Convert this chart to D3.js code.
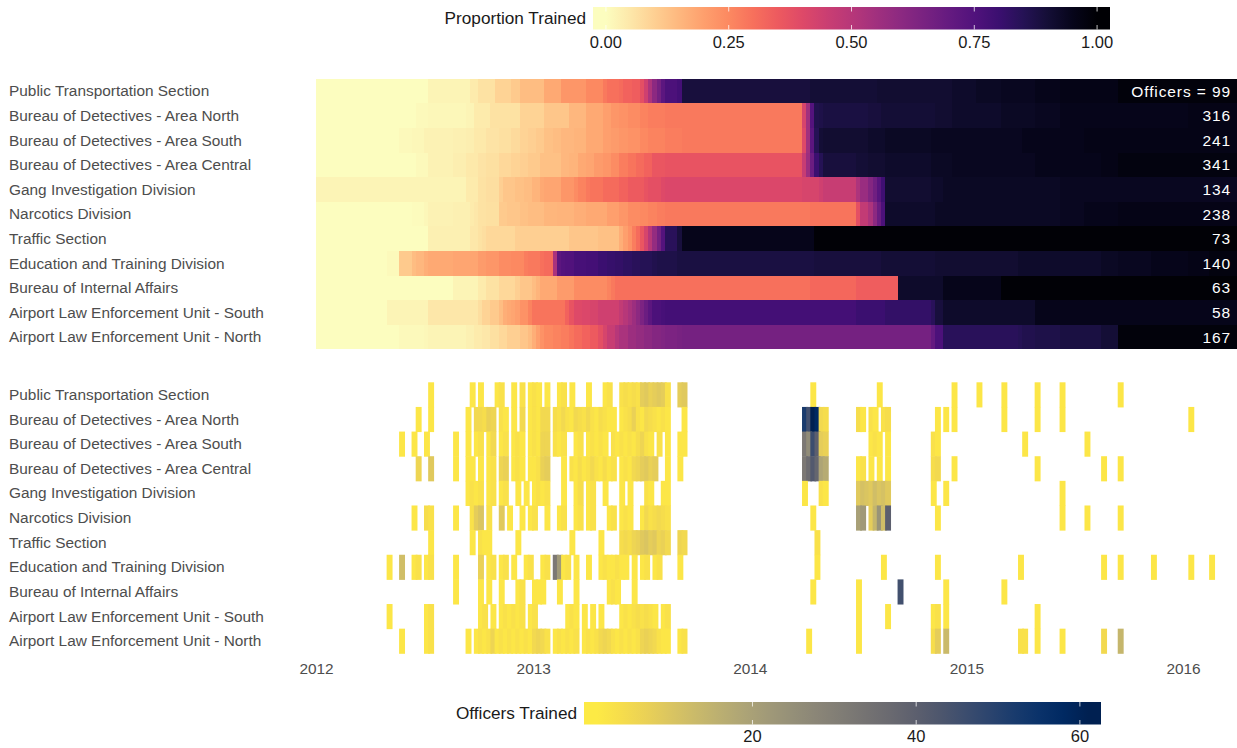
<!DOCTYPE html>
<html>
<head>
<meta charset="utf-8">
<script src="https://cdn.jsdelivr.net/npm/d3@7"></script>
<style>
  body { margin: 0; background: #fff; }
  text { font-family: "Liberation Sans", Arial, sans-serif; }
</style>
</head>
<body>
<svg id="chart" width="1237" height="748"></svg>
<script>
// Units, top to bottom
const units = [
  "Public Transportation Section",
  "Bureau of Detectives - Area North",
  "Bureau of Detectives - Area South",
  "Bureau of Detectives - Area Central",
  "Gang Investigation Division",
  "Narcotics Division",
  "Traffic Section",
  "Education and Training Division",
  "Bureau of Internal Affairs",
  "Airport Law Enforcement Unit - South",
  "Airport Law Enforcement Unit - North"
];

// Headcount of each unit
const officers = [99, 316, 241, 341, 134, 238, 73, 140, 63, 58, 167];

const yearTicks = ["2012", "2013", "2014", "2015", "2016"];
const shareTicks = [0, 0.25, 0.5, 0.75, 1];
const countTicks = [20, 40, 60];

// Weeks are counted from Sunday 2012-01-01; week 222 closes the period.
const lastWeek = 222;

// Cumulative share of each unit trained: [week, share] at each change
const sharePublicTransport = [[0,0],[27,0.02],[37,0.04],[39,0.06],[43,0.09],[47,0.11],[49,0.14],[55,0.18],[59,0.22],[65,0.25],[69,0.28],[70,0.30],[73,0.31],[74,0.33],[76,0.34],[78,0.38],[79,0.44],[80,0.52],[81,0.60],[82,0.66],[83,0.72],[84,0.76],[87,0.78],[88,0.89],[119,0.90],[135,0.91],[153,0.92],[159,0.93],[165,0.94],[173,0.95],[179,0.96],[193,0.98]];
const shareNorth = [[0,0],[24,0.01],[27,0.015],[36,0.02],[38,0.04],[42,0.06],[49,0.09],[55,0.12],[61,0.15],[65,0.18],[69,0.20],[71,0.22],[73,0.23],[75,0.24],[78,0.26],[80,0.27],[84,0.28],[117,0.42],[118,0.55],[119,0.74],[120,0.86],[121,0.87],[122,0.88],[133,0.89],[136,0.90],[149,0.91],[153,0.92],[165,0.93],[173,0.94],[179,0.95],[210,0.96]];
const shareSouth = [[0,0],[20,0.01],[23,0.015],[26,0.025],[33,0.03],[36,0.035],[38,0.045],[41,0.055],[44,0.065],[47,0.075],[49,0.09],[51,0.10],[53,0.11],[55,0.13],[57,0.14],[59,0.15],[62,0.16],[65,0.18],[69,0.20],[71,0.21],[73,0.22],[75,0.23],[78,0.25],[80,0.26],[84,0.27],[88,0.28],[117,0.40],[118,0.55],[119,0.72],[120,0.85],[121,0.90],[122,0.91],[133,0.92],[137,0.93],[148,0.94],[170,0.95],[185,0.96]];
const shareCentral = [[0,0],[24,0.01],[27,0.025],[33,0.035],[36,0.045],[39,0.055],[41,0.065],[44,0.08],[47,0.09],[49,0.10],[51,0.11],[54,0.13],[59,0.15],[61,0.16],[63,0.18],[65,0.19],[67,0.21],[69,0.22],[71,0.24],[73,0.27],[75,0.29],[77,0.31],[79,0.33],[81,0.36],[84,0.37],[117,0.46],[118,0.56],[119,0.68],[120,0.80],[121,0.85],[122,0.89],[130,0.90],[133,0.91],[137,0.92],[148,0.93],[153,0.94],[173,0.95],[189,0.96],[193,0.97]];
const shareGang = [[0,0.02],[36,0.04],[39,0.06],[41,0.07],[44,0.10],[45,0.12],[48,0.13],[50,0.14],[52,0.16],[54,0.18],[55,0.19],[59,0.22],[62,0.24],[63,0.26],[65,0.28],[66,0.29],[69,0.31],[73,0.33],[75,0.35],[79,0.37],[80,0.38],[83,0.40],[84,0.41],[117,0.42],[121,0.44],[122,0.46],[130,0.52],[131,0.57],[133,0.62],[134,0.67],[135,0.73],[136,0.79],[137,0.91],[148,0.92],[151,0.93],[179,0.94]];
const shareNarcotics = [[0,0],[23,0.005],[26,0.015],[27,0.025],[33,0.03],[37,0.04],[38,0.05],[39,0.06],[41,0.065],[44,0.11],[46,0.12],[49,0.13],[51,0.14],[55,0.155],[58,0.16],[62,0.17],[65,0.18],[70,0.20],[73,0.22],[75,0.24],[78,0.25],[80,0.26],[82,0.27],[84,0.28],[119,0.29],[130,0.38],[131,0.47],[133,0.52],[134,0.60],[135,0.68],[136,0.76],[137,0.92],[149,0.93],[179,0.94],[185,0.95],[193,0.96]];
const shareTraffic = [[0,0],[27,0.03],[37,0.05],[39,0.06],[40,0.07],[41,0.08],[48,0.10],[61,0.12],[68,0.13],[73,0.17],[74,0.20],[75,0.23],[76,0.27],[77,0.31],[78,0.36],[79,0.42],[80,0.50],[81,0.58],[82,0.66],[83,0.74],[84,0.84],[87,0.89],[88,0.95],[120,0.99]];
const shareEducation = [[0,0],[17,0.01],[20,0.11],[23,0.14],[24,0.15],[26,0.17],[27,0.18],[33,0.19],[39,0.21],[41,0.22],[44,0.24],[47,0.25],[50,0.27],[51,0.28],[54,0.30],[55,0.31],[57,0.53],[58,0.72],[59,0.74],[60,0.75],[62,0.77],[65,0.78],[68,0.80],[70,0.81],[72,0.82],[74,0.83],[76,0.84],[78,0.85],[81,0.86],[82,0.87],[87,0.88],[120,0.89],[136,0.90],[149,0.91],[169,0.92],[189,0.93],[193,0.94],[201,0.95],[210,0.96],[215,0.97]];
const shareInternalAffairs = [[0,0],[33,0.02],[39,0.04],[41,0.06],[44,0.08],[48,0.10],[49,0.12],[52,0.14],[53,0.16],[54,0.18],[58,0.21],[62,0.24],[70,0.26],[71,0.28],[72,0.30],[119,0.32],[130,0.34],[140,0.92],[151,0.95],[165,0.99]];
const shareAirportSouth = [[0,0],[17,0.02],[27,0.05],[39,0.07],[40,0.09],[42,0.11],[44,0.14],[45,0.17],[46,0.18],[47,0.19],[48,0.20],[49,0.23],[51,0.26],[52,0.29],[60,0.33],[61,0.37],[62,0.40],[64,0.41],[66,0.42],[68,0.44],[73,0.47],[74,0.50],[75,0.53],[76,0.56],[77,0.60],[78,0.64],[79,0.68],[80,0.72],[81,0.76],[83,0.77],[84,0.78],[130,0.80],[137,0.82],[148,0.84],[149,0.89],[151,0.92],[173,0.95]];
const shareAirportNorth = [[0,0],[20,0.01],[26,0.015],[27,0.02],[36,0.03],[38,0.04],[40,0.05],[42,0.065],[44,0.08],[46,0.10],[49,0.12],[51,0.14],[52,0.17],[53,0.20],[54,0.23],[55,0.25],[57,0.26],[59,0.27],[61,0.29],[62,0.31],[64,0.33],[66,0.35],[68,0.38],[69,0.42],[70,0.46],[72,0.50],[73,0.53],[75,0.56],[77,0.58],[79,0.60],[81,0.62],[83,0.63],[84,0.64],[87,0.65],[88,0.66],[148,0.70],[149,0.76],[151,0.84],[169,0.85],[170,0.86],[173,0.87],[179,0.88],[189,0.90],[193,0.98]];

// Officers trained per week: [week, count]
const weeklyPublicTransport = [[27,2],[37,2],[39,2],[43,2],[44,3],[47,2],[49,3],[51,2],[52,3],[53,2],[55,2],[58,2],[59,3],[61,2],[65,2],[69,2],[70,3],[73,3],[74,4],[75,3],[76,4],[77,3],[78,8],[79,9],[80,7],[81,8],[82,9],[83,8],[84,3],[87,8],[88,9],[119,2],[135,2],[153,2],[159,2],[165,2],[173,2],[179,2],[193,2]];
const weeklyNorth = [[24,2],[27,2],[36,2],[38,5],[39,5],[40,4],[41,7],[42,6],[44,3],[45,2],[47,2],[49,5],[51,2],[52,3],[53,2],[54,5],[55,5],[57,4],[58,3],[59,5],[60,3],[61,2],[62,5],[63,4],[64,3],[65,5],[66,3],[67,2],[68,4],[69,3],[70,2],[71,2],[73,2],[74,3],[75,4],[76,7],[77,3],[78,2],[79,5],[80,4],[81,3],[82,2],[83,3],[84,2],[88,2],[117,52],[118,45],[119,61],[120,58],[121,5],[122,4],[130,4],[131,2],[133,3],[134,2],[136,3],[137,4],[149,2],[151,2],[153,2],[165,2],[173,2],[179,2],[210,2]];
const weeklySouth = [[20,2],[23,2],[26,2],[33,2],[36,2],[38,2],[39,3],[41,2],[42,5],[44,2],[45,3],[47,2],[48,3],[49,2],[51,2],[52,3],[53,2],[54,6],[55,6],[57,3],[58,2],[59,3],[62,2],[63,3],[65,2],[66,3],[67,2],[68,3],[69,2],[71,3],[72,2],[73,3],[74,2],[75,3],[76,2],[77,4],[78,6],[79,3],[80,2],[82,3],[84,2],[87,2],[88,2],[117,32],[118,26],[119,46],[120,40],[121,8],[122,7],[133,2],[134,3],[135,2],[137,2],[148,3],[149,2],[170,2],[185,2]];
const weeklyCentral = [[24,6],[27,9],[33,2],[36,2],[37,2],[39,2],[41,2],[42,3],[44,6],[45,7],[47,2],[48,3],[49,2],[51,2],[52,2],[53,3],[54,7],[55,8],[59,2],[61,3],[62,2],[63,4],[64,2],[65,3],[66,5],[67,3],[68,2],[69,4],[70,2],[71,3],[73,2],[74,3],[75,2],[76,5],[77,6],[78,8],[79,9],[80,7],[81,8],[84,2],[87,2],[117,32],[118,36],[119,42],[120,38],[121,19],[122,17],[130,2],[131,3],[133,2],[135,2],[137,2],[148,4],[149,5],[153,2],[173,2],[189,2],[193,2]];
const weeklyGang = [[36,2],[37,3],[38,2],[39,3],[41,2],[42,3],[44,2],[45,3],[48,2],[50,2],[52,2],[53,3],[54,2],[55,3],[59,2],[62,2],[63,4],[65,2],[66,3],[69,2],[73,2],[75,2],[79,3],[80,2],[83,2],[84,2],[117,2],[121,3],[122,2],[130,9],[131,11],[132,10],[133,9],[134,12],[135,10],[136,11],[137,9],[148,2],[151,2],[179,2]];
const weeklyNarcotics = [[23,2],[26,4],[27,3],[33,2],[37,3],[38,8],[39,10],[41,3],[44,9],[46,2],[49,2],[51,2],[52,3],[55,2],[58,2],[59,3],[62,2],[63,3],[65,2],[66,3],[70,2],[71,3],[73,2],[74,3],[75,2],[78,2],[79,5],[80,3],[81,4],[82,5],[83,4],[84,3],[119,2],[130,20],[131,22],[133,8],[134,14],[135,24],[136,12],[137,40],[149,2],[179,2],[185,2],[193,2]];
const weeklyTraffic = [[27,2],[37,2],[39,3],[40,2],[41,2],[48,2],[61,2],[68,2],[73,4],[74,5],[75,4],[76,6],[77,7],[78,9],[79,10],[80,8],[81,9],[82,6],[83,7],[84,5],[87,6],[88,5],[120,3]];
const weeklyEducation = [[17,2],[20,12],[23,2],[24,3],[26,2],[27,3],[33,2],[39,7],[41,2],[42,3],[44,2],[45,3],[47,2],[50,2],[51,3],[54,2],[55,3],[57,32],[58,22],[59,2],[60,3],[62,2],[65,2],[68,2],[69,3],[70,2],[71,2],[72,3],[73,2],[74,2],[76,2],[78,2],[79,3],[81,2],[82,3],[87,2],[120,2],[136,2],[149,2],[169,2],[189,2],[193,2],[201,2],[210,2],[215,2]];
const weeklyInternalAffairs = [[33,2],[39,2],[41,2],[44,2],[48,2],[49,3],[52,2],[53,2],[54,2],[58,2],[62,2],[70,2],[71,3],[72,2],[76,2],[119,2],[130,2],[140,45],[151,2],[165,2]];
const weeklyAirportSouth = [[17,2],[26,2],[27,3],[39,2],[40,3],[42,2],[44,2],[45,3],[46,2],[47,3],[48,2],[49,3],[51,2],[52,3],[60,2],[61,3],[62,2],[64,2],[66,2],[68,2],[73,2],[74,3],[75,2],[76,3],[77,4],[78,3],[79,4],[80,3],[81,2],[83,2],[84,3],[130,2],[137,2],[148,2],[149,3],[151,2],[173,2]];
const weeklyAirportNorth = [[20,2],[26,2],[27,3],[36,2],[38,2],[39,3],[40,2],[41,3],[42,6],[43,2],[44,3],[45,2],[46,3],[47,2],[48,3],[49,2],[50,3],[51,2],[52,5],[53,6],[54,5],[55,3],[57,2],[58,3],[59,2],[60,3],[61,2],[62,3],[64,2],[65,3],[66,2],[67,3],[68,5],[69,6],[70,5],[71,3],[72,2],[73,3],[74,2],[75,3],[76,2],[77,3],[78,6],[79,7],[80,6],[81,5],[82,3],[83,2],[84,2],[87,2],[88,3],[118,2],[130,2],[148,4],[149,8],[151,13],[169,3],[170,3],[173,2],[179,2],[189,5],[193,14]];

const shareSeries = [sharePublicTransport, shareNorth, shareSouth, shareCentral, shareGang, shareNarcotics,
  shareTraffic, shareEducation, shareInternalAffairs, shareAirportSouth, shareAirportNorth];
const weeklySeries = [weeklyPublicTransport, weeklyNorth, weeklySouth, weeklyCentral, weeklyGang, weeklyNarcotics,
  weeklyTraffic, weeklyEducation, weeklyInternalAffairs, weeklyAirportSouth, weeklyAirportNorth];

// ---- scales ----
const svg = d3.select("#chart");
const origin = new Date(2012, 0, 1);
const weekStart = w => d3.timeDay.offset(origin, 7 * w);

const x = d3.scaleTime()
  .domain([new Date(2012, 0, 1), new Date(2016, 0, 1)])
  .range([316, 1183]);

const yTop = d3.scaleBand().domain(units).range([78.8, 349.3]);
const yBottom = d3.scaleBand().domain(units).range([382.3, 653.3]);

const shareColor = d3.scaleSequential(t => d3.interpolateMagma(1 - t)).domain([0, 1]);
const countColor = d3.scaleSequential(t => d3.interpolateCividis(1 - t)).domain([1, 61]);

// ---- top panel: cumulative share trained (pixel-snapped so tiles butt together) ----
const topRows = svg.append("g")
  .attr("shape-rendering", "crispEdges")
  .selectAll("g")
  .data(units.map((u, i) => ({ unit: u, steps: shareSeries[i] })))
  .join("g");

topRows.selectAll("rect")
  .data(d => d.steps.map((s, j) => ({
    unit: d.unit,
    from: s[0],
    to: j + 1 < d.steps.length ? d.steps[j + 1][0] : lastWeek,
    share: s[1]
  })))
  .join("rect")
  .attr("x", d => Math.round(x(weekStart(d.from))))
  .attr("width", d => Math.round(x(weekStart(d.to))) - Math.round(x(weekStart(d.from))))
  .attr("y", d => Math.round(yTop(d.unit)))
  .attr("height", d => Math.round(yTop(d.unit) + yTop.bandwidth()) - Math.round(yTop(d.unit)))
  .attr("fill", d => shareColor(d.share));

// Headcount labels at the right end of each row
svg.append("g").selectAll("text")
  .data(units.map((u, i) => ({ unit: u, n: officers[i], first: i === 0 })))
  .join("text")
  .attr("x", 1231)
  .attr("y", d => yTop(d.unit) + yTop.bandwidth() / 2 + 5.5)
  .attr("text-anchor", "end")
  .attr("fill", "#ffffff")
  .attr("font-size", 15.5)
  .attr("letter-spacing", 0.9)
  .text(d => d.first ? `Officers = ${d.n}` : d.n);

// ---- bottom panel: officers trained per week ----
const bottomRows = svg.append("g").selectAll("g")
  .data(units.map((u, i) => ({ unit: u, weeks: weeklySeries[i] })))
  .join("g");

bottomRows.selectAll("rect")
  .data(d => d.weeks.map(([w, n]) => ({ unit: d.unit, week: w, n })))
  .join("rect")
  .attr("x", d => x(weekStart(d.week)))
  .attr("width", d => x(d3.timeDay.offset(weekStart(d.week), 10)) - x(weekStart(d.week)))
  .attr("y", d => yBottom(d.unit))
  .attr("height", yBottom.bandwidth() + 0.5)
  .attr("fill", d => countColor(d.n));

// ---- row labels ----
[yTop, yBottom].forEach(y => {
  svg.append("g").selectAll("text")
    .data(units)
    .join("text")
    .attr("x", 9)
    .attr("y", d => y(d) + y.bandwidth() / 2 + 5.3)
    .attr("fill", "#4d4d4d")
    .attr("font-size", 15.4)
    .text(d => d);
});

// ---- time axis ----
const parseYear = d3.timeParse("%Y");
const xAxis = d3.axisBottom(x)
  .tickValues(yearTicks.map(parseYear))
  .tickFormat(d3.timeFormat("%Y"))
  .tickSize(0)
  .tickPadding(0);

const axisG = svg.append("g").attr("transform", "translate(0,663)").call(xAxis);
axisG.select(".domain").remove();
axisG.selectAll("text")
  .attr("font-family", "Liberation Sans, Arial, sans-serif")
  .attr("font-size", 15.4)
  .attr("fill", "#4d4d4d");

// ---- colour bar legends ----
function colourBar({ id, left, width, top, height, scale, ticks, format, title, labelY }) {
  const [d0, d1] = scale.domain();
  const half = width / 40;                 // value limits sit half a bin inside the bar
  const pos = d3.scaleLinear().domain([d0, d1]).range([left + half, left + width - half]);

  const grad = svg.append("defs").append("linearGradient")
    .attr("id", id)
    .attr("gradientUnits", "userSpaceOnUse")
    .attr("x1", pos(d0)).attr("x2", pos(d1))
    .attr("y1", 0).attr("y2", 0);
  grad.selectAll("stop")
    .data(d3.range(0, 1.0001, 0.05))
    .join("stop")
    .attr("offset", t => t)
    .attr("stop-color", t => scale(d0 + t * (d1 - d0)));

  const g = svg.append("g");
  g.append("rect")
    .attr("x", left).attr("y", top)
    .attr("width", width).attr("height", height)
    .attr("fill", `url(#${id})`);

  g.selectAll("line.tk-top")
    .data(ticks).join("line")
    .attr("x1", pos).attr("x2", pos)
    .attr("y1", top).attr("y2", top + 4.5)
    .attr("stroke", "#fff").attr("stroke-opacity", 0.75).attr("stroke-width", 1);
  g.selectAll("line.tk-bot")
    .data(ticks).join("line")
    .attr("x1", pos).attr("x2", pos)
    .attr("y1", top + height - 4.5).attr("y2", top + height)
    .attr("stroke", "#fff").attr("stroke-opacity", 0.75).attr("stroke-width", 1);

  g.selectAll("text.tick")
    .data(ticks).join("text")
    .attr("class", "tick")
    .attr("x", pos)
    .attr("y", labelY)
    .attr("text-anchor", "middle")
    .attr("font-size", 16.5)
    .attr("fill", "#1a1a1a")
    .text(format);

  g.append("text")
    .attr("x", left - 7)
    .attr("y", top + height / 2 + 6)
    .attr("text-anchor", "end")
    .attr("font-size", 17.2)
    .attr("fill", "#1a1a1a")
    .text(title);
}

colourBar({
  id: "shareGrad", left: 593, width: 517, top: 7, height: 22.5,
  scale: shareColor, ticks: shareTicks, format: d3.format(".2f"),
  title: "Proportion Trained", labelY: 48
});

colourBar({
  id: "countGrad", left: 584, width: 517, top: 702, height: 22.5,
  scale: countColor, ticks: countTicks, format: d3.format("d"),
  title: "Officers Trained", labelY: 742
});
</script>
</body>
</html>
